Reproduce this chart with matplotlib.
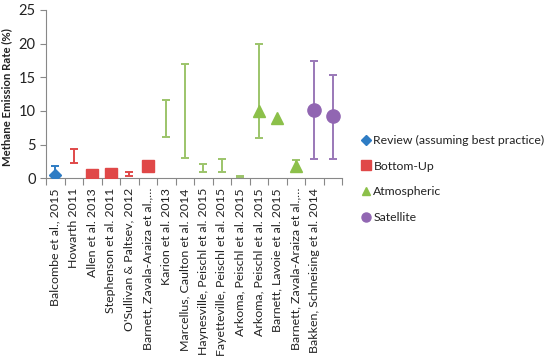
import numpy as np
import matplotlib
matplotlib.use("Agg")
import matplotlib.pyplot as plt
from matplotlib.lines import Line2D

plt.rcParams['font.family'] = ['Lato', 'DejaVu Sans']

categories = ["Balcombe et al., 2015", "Howarth 2011", "Allen et al. 2013",
              "Stephenson et al. 2011", "O'Sullivan & Paltsev, 2012",
              "Barnett, Zavala-Araiza et al.,…", "Karion et al. 2013",
              "Marcellus, Caulton et al. 2014", "Haynesville, Peischl et al. 2015",
              "Fayetteville, Peischl et al. 2015", "Arkoma, Peischl et al. 2015",
              "Arkoma, Peischl et al. 2015", "Barnett, Lavoie et al. 2015",
              "Barnett, Zavala-Araiza et al.,…", "Bakken, Schneising et al. 2014", ""]

nan = np.nan
# series: 0 review, 1 bottom-up, 2 atmospheric, 3 satellite
series_id = [0, 1, 1, 1, 1, 1, 2, 2, 2, 2, 2, 2, 2, 2, 3, 3]
values = [0.55, nan, 0.45, 0.62, nan, 1.9, nan, nan, nan, nan, nan, 10.0, 9.0, 1.8, 10.2, 9.2]
err_low = [0.3, 2.2, nan, nan, 0.4, 1.5, 6.2, 3.0, 1.0, 1.0, 0.2, 6.0, nan, 1.3, 2.8, 2.9]
err_high = [1.8, 4.3, nan, nan, 0.95, 2.5, 11.6, 17.0, 2.1, 2.8, 0.4, 20.0, nan, 2.7, 17.4, 15.3]

series_names = ["Review (assuming best practice)", "Bottom-Up", "Atmospheric", "Satellite"]
marker_colors = ["#2E7CC4", "#E04848", "#8CC04A", "#9166B2"]
err_colors = ["#2E7CC4", "#E04848", "#9CC46A", "#9A78B8"]
markers = ["D", "s", "^", "o"]
msizes = [6, 8, 9, 9.5]

fig = plt.figure(figsize=(5.5, 3.57), dpi=100)
ax = fig.add_axes([46/550, 1-178.3/357, (342-46)/550, (178.3-10)/357])

x = np.arange(len(categories))
for i in range(len(categories)):
    s = series_id[i]
    lo, hi = err_low[i], err_high[i]
    if not np.isnan(lo):
        ax.errorbar([x[i]], [lo], yerr=[[0], [hi - lo]], fmt='none',
                    ecolor=err_colors[s], elinewidth=1.2, capsize=3, capthick=1.2, zorder=2)
        ax.errorbar([x[i]], [hi], yerr=[[hi - lo], [0]], fmt='none',
                    ecolor=err_colors[s], elinewidth=1.2, capsize=3, capthick=1.2, zorder=2)
    if not np.isnan(values[i]):
        ax.plot([x[i]], [values[i]], marker=markers[s], color=marker_colors[s],
                markersize=msizes[s], linestyle='none', zorder=3)

ax.set_xlim(-0.5, len(categories) - 0.5)
ax.set_ylim(0, 25)
ax.set_yticks([0, 5, 10, 15, 20, 25])
ax.set_xticks(x)
ax.set_xticklabels(categories, rotation=90, fontsize=8.9, color='#222222')
ax.set_xticks(np.arange(-0.5, len(categories), 1), minor=True)
ax.tick_params(axis='x', which='major', length=0, pad=7)
ax.tick_params(axis='x', which='minor', length=5, color='#888888', width=0.8)
ax.tick_params(axis='y', labelsize=10.5, length=4, color='#888888', width=0.8, labelcolor='#222222')
for sp in ['top', 'right']:
    ax.spines[sp].set_visible(False)
for sp in ['left', 'bottom']:
    ax.spines[sp].set_color('#888888')
    ax.spines[sp].set_linewidth(0.8)
ax.set_ylabel("Methane Emission Rate (%)", fontsize=8.2, fontweight='bold', color='#222222')
ax.yaxis.set_label_coords((12 - 46) / 296, (178.3 - 97) / 168.3)

handles = [Line2D([], [], marker=markers[k], color=marker_colors[k], linestyle='none',
                  markersize=[5, 6.5, 6, 6.5][k]) for k in range(4)]
leg = fig.legend(handles, series_names, loc='upper left', bbox_to_anchor=(360/550, 1-135/357),
                 frameon=False, fontsize=8.8, handletextpad=0.1, handlelength=1.0,
                 labelspacing=1.2, borderaxespad=0, borderpad=0)
for t in leg.get_texts():
    t.set_color('#222222')

fig.savefig("out.png", dpi=100)
